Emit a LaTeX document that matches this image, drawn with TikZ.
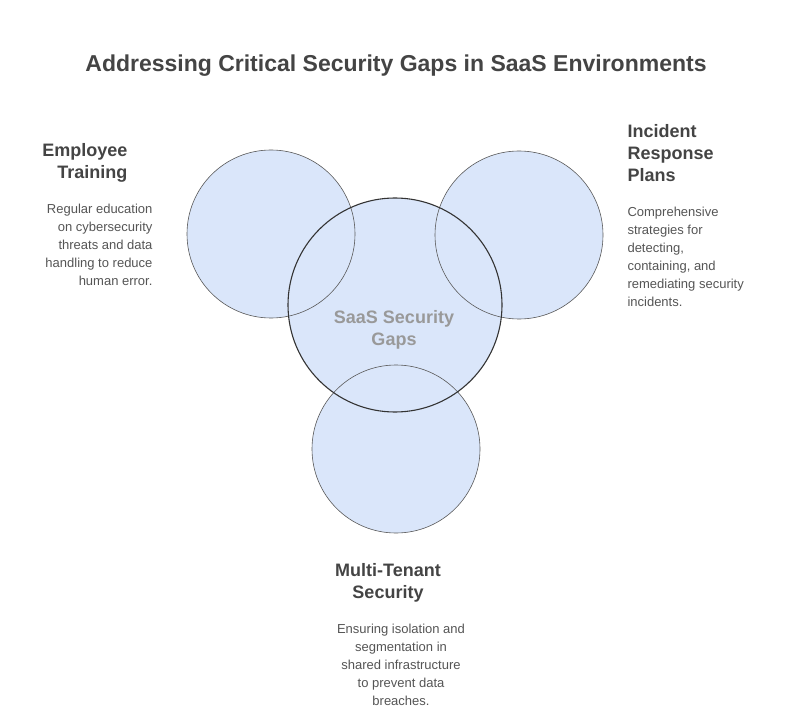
\documentclass[tikz,border=0pt]{standalone}
\usepackage{fontspec}
\setmainfont{Liberation Sans}
\begin{document}
\begin{tikzpicture}[x=1pt,y=-1pt,
  circ/.style={fill=cfill},
  ttl/.style={font=\bfseries\fontsize{18}{22}\selectfont,text=tdark},
  body/.style={font=\fontsize{13}{18}\selectfont,text=tbody}]
\definecolor{cfill}{HTML}{DAE6FA}
\definecolor{tdark}{HTML}{444444}
\definecolor{tbody}{HTML}{555555}
\useasboundingbox (0,0) rectangle (792,727);
\fill[white] (0,0) rectangle (792,727);
\node[font=\bfseries\fontsize{23}{28}\selectfont,text=tdark] (title) at (396,66) {Addressing Critical Security Gaps in SaaS Environments};
\coordinate (cl) at (271,234);
\coordinate (cr) at (519,235);
\coordinate (cc) at (395,305);
\coordinate (cb) at (396,449);
\foreach \p/\r in {cl/84,cr/84,cc/107,cb/84} \fill[cfill] (\p) circle (\r);
\foreach \p in {cl,cr,cb} \draw[gray!70!black,line width=0.6pt] (\p) circle (84);
\draw[black!80,line width=1.1pt] (cc) circle (107);
\node[font=\bfseries\fontsize{18}{22}\selectfont,text=black!40,align=center] (center) at (394,330) {SaaS Security\\Gaps};
\node[ttl,align=right,anchor=north east] (et) at (131,140) {Employee\\Training};
\node[body,align=right,anchor=north east] (etb) at (156,201) {Regular education\\on cybersecurity\\threats and data\\handling to reduce\\human error.};
\node[ttl,align=left,anchor=north west] (ir) at (624,121) {Incident\\Response\\Plans};
\node[body,align=left,anchor=north west] (irb) at (624,204) {Comprehensive\\strategies for\\detecting,\\containing, and\\remediating security\\incidents.};
\node[ttl,align=center,anchor=north] (mt) at (388,560) {Multi-Tenant\\Security};
\node[body,align=center,anchor=north] (mtb) at (401,621) {Ensuring isolation and\\segmentation in\\shared infrastructure\\to prevent data\\breaches.};
\end{tikzpicture}
\end{document}
